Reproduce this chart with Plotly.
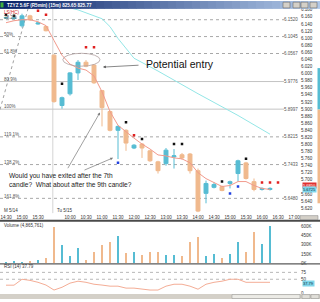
import plotly.graph_objects as go

# ---------------- data ----------------
# slot index: 15-minute bars, day1 (M 5/14) = -6..-1, day2 (Tu 5/15) = 0..27
slots = list(range(-6, 28))
opens = [6.157, 6.156, 6.135, 6.163, 6.140, 6.133,
         6.052, 5.910, 5.943, 6.002, 6.032, 6.024, 5.952, 5.893, 5.840, 5.840,
         5.790, 5.801, 5.782, 5.751, 5.746, 5.765, 5.771, 5.773, 5.726, 5.662,
         5.679, 5.681, 5.690, 5.718, 5.748, 5.695, 5.673, 5.673]
highs = [6.160, 6.159, 6.169, 6.166, 6.146, 6.135,
         6.055, 5.935, 6.004, 6.038, 6.038, 6.027, 5.954, 5.896, 5.854, 5.843,
         5.801, 5.804, 5.784, 5.754, 5.790, 5.787, 5.776, 5.776, 5.732, 5.698,
         5.693, 5.684, 5.698, 5.757, 5.751, 5.704, 5.679, 5.679]
lows = [6.154, 6.153, 6.130, 6.149, 6.138, 6.119,
        5.918, 5.901, 5.938, 5.982, 6.018, 5.971, 5.851, 5.837, 5.759, 5.782,
        5.787, 5.762, 5.751, 5.718, 5.740, 5.732, 5.757, 5.718, 5.609, 5.634,
        5.676, 5.668, 5.676, 5.695, 5.701, 5.668, 5.670, 5.670]
closes = [6.158, 6.157, 6.163, 6.152, 6.143, 6.121,
          5.921, 5.932, 6.002, 6.032, 6.021, 5.974, 5.904, 5.840, 5.851, 5.804,
          5.798, 5.790, 5.754, 5.726, 5.784, 5.768, 5.762, 5.726, 5.612, 5.690,
          5.687, 5.670, 5.695, 5.754, 5.704, 5.673, 5.676, 5.676]
volume_k = [20, 32, 20, 32, 55, 80,
            584, 300, 126, 253, 63, 190, 300, 347, 442, 174,
            190, 142, 190, 190, 142, 142, 126, 347, 426, 126,
            158, 95, 158, 347, 190, 505, 316, 600]
rsi = [28.6, 28.6, 50, 46, 39, 29,
       11, 21, 36, 43, 39, 32, 29, 25, 25, 18,
       18, 14, 11, 11, 25, 32, 32, 25, 14, 32,
       39, 43, 50, 50, 39, 39, 39, 39]
ma_fast = [6.1436, 6.1492, 6.1520, 6.1520, 6.1464, 6.1353,
           6.0935, 6.0518, 6.0267, 6.0156, 6.0100, 5.9933, 5.9487, 5.8930, 5.8541, 5.8346,
           5.8179, 5.8012, 5.7872, 5.7705, 5.7677, 5.7622, 5.7594, 5.7483, 5.7204, 5.7037,
           5.6926, 5.6814, 5.6842, 5.6953, 5.6953, 5.6842, 5.6759, 5.6731]
ma_slow_slots = [0, 3, 6, 7, 8, 10, 13, 18, 23, 27]
ma_slow = [6.1966, 6.1798, 6.1548, 6.1325, 6.0991, 6.0434, 6.0072, 5.9432, 5.8819, 5.8290]

fib_pct = ["38.2%", "50%", "61.8%", "80.9%", "100%", "119.1%", "138.2%", "161.8%"]
fib_val = [6.1520, 6.1045, 6.0567, 5.9776, 5.8997, 5.8215, 5.7433, 5.6480]

mk_black_slots = [-6, -5, 1, 9, 11, 15, 16, 21, 24]
mk_black_vals = [6.1659, 6.1631, 5.9710, 5.8624, 5.8151, 5.8012, 5.8012, 5.6953, 5.7594]
mk_red_slots = [-2, -1, 4, 5, 10, 26, 27, 28]
mk_red_vals = [6.1771, 6.1659, 6.0740, 6.0740, 5.8262, 5.6926, 5.6926, 5.6926]
mk_blue_slots = [8, 22, 23]
mk_blue_vals = [5.7483, 5.6619, 5.6814]

tick_slots = [-6, -4, -2, 2, 4, 6, 8, 10, 12, 14, 16, 18, 20, 22, 24, 26, 28, 30]
tick_text = ["14:30", "15:00", "15:30", "10:00", "10:30", "11:00", "11:30", "12:00",
             "12:30", "13:00", "13:30", "14:00", "14:30", "15:00", "15:30", "16:00",
             "16:30", "17:00"]
# price labels on the right (5.680 sits hidden behind the red last-value box)
price_ticks = [6.18, 6.16, 6.14, 6.12, 6.10, 6.08, 6.06, 6.04, 6.02, 6.00,
               5.98, 5.96, 5.94, 5.92, 5.90, 5.88, 5.86, 5.84, 5.82, 5.80,
               5.78, 5.76, 5.74, 5.72, 5.70, 5.66, 5.64, 5.62]
vol_ticks = [0, 150, 300, 450, 600]
vol_tick_text = ["0K", "150K", "300K", "450K", "600K"]
rsi_ticks = [0, 50, 75]

last_red = 5.6850
last_cyan = 5.6725
rsi_last = 37.79

title_text = "TZYZ 5.6F (R5min) (15m) 825.65 825.77"
comment_text = "Would you have exited after the 7th<br>candle?&nbsp; What about after the 9th candle?"

# ---------------- styling ----------------
UP = "#56bcd3"
DOWN = "#f0b98d"
FONT = "Liberation Sans, Arial, sans-serif"
W, H, R = 320, 302, 20
PW = W - R


def PX(x):
    return x / PW


def PY(y):
    return 1 - y / H


fig = go.Figure()

fig.add_trace(go.Candlestick(
    x=slots, open=opens, high=highs, low=lows, close=closes,
    increasing=dict(line=dict(color=UP, width=1), fillcolor=UP),
    decreasing=dict(line=dict(color=DOWN, width=1), fillcolor=DOWN),
    whiskerwidth=0, xaxis="x", yaxis="y", hoverinfo="skip"))

fig.add_trace(go.Scatter(x=ma_slow_slots, y=ma_slow, mode="lines",
                         line=dict(color="#93e6e6", width=1), xaxis="x", yaxis="y"))
fig.add_trace(go.Scatter(x=slots, y=ma_fast, mode="lines",
                         line=dict(color="#f29a8c", width=1), xaxis="x", yaxis="y"))

for s, v, c in [(mk_black_slots, mk_black_vals, "#111111"),
                (mk_red_slots, mk_red_vals, "#e02020"),
                (mk_blue_slots, mk_blue_vals, "#2040e0")]:
    fig.add_trace(go.Scatter(x=s, y=v, mode="markers",
                             marker=dict(symbol="square", size=2.5, color=c, line=dict(width=0)),
                             xaxis="x", yaxis="y"))

vol_colors = [UP if c >= o else DOWN for o, c in zip(opens, closes)]
fig.add_trace(go.Bar(x=slots, y=volume_k, marker=dict(color=vol_colors, line=dict(width=0)),
                     width=0.34, xaxis="x2", yaxis="y2"))

fig.add_trace(go.Scatter(x=slots, y=rsi, mode="lines",
                         line=dict(color="#f4ad96", width=1), xaxis="x3", yaxis="y3"))

shapes = []
annotations = []

# title bar gradient
n = 40
c0, c1 = (10, 36, 106), (176, 200, 232)
for i in range(n):
    t = i / (n - 1)
    col = "rgb(%d,%d,%d)" % tuple(int(a + (b - a) * t) for a, b in zip(c0, c1))
    shapes.append(dict(type="rect", xref="paper", yref="paper",
                       x0=PX(W * i / n), x1=PX(W * (i + 1) / n + 0.5), y0=PY(8), y1=PY(0),
                       fillcolor=col, line=dict(width=0), layer="above"))
shapes.append(dict(type="rect", xref="paper", yref="paper", x0=PX(0.5), x1=PX(3.5),
                   y0=PY(6.5), y1=PY(1.5), fillcolor="#3fae3f", line=dict(width=0), layer="above"))
for bx in [(283, 290), (293, 300), (301, 308), (310, 317)]:
    shapes.append(dict(type="rect", xref="paper", yref="paper", x0=PX(bx[0]), x1=PX(bx[1]),
                       y0=PY(7), y1=PY(1.2), fillcolor="#d4d0c8",
                       line=dict(width=0.6, color="#6a6a6a"), layer="above"))
annotations.append(dict(text="<b>" + title_text + "</b>", xref="paper", yref="paper",
                        x=PX(5), y=PY(4.2), xanchor="left", yanchor="middle", showarrow=False,
                        font=dict(family=FONT, size=4.6, color="white")))

# fib levels
for p, v in zip(fib_pct, fib_val):
    solid = p in ("80.9%", "100%")
    shapes.append(dict(type="line", xref="x", yref="y", x0=-6.75, x1=28.75, y0=v, y1=v,
                       line=dict(color="#c4c4c4" if solid else "#a8a8a8", width=1,
                                 dash="solid" if solid else "dot"), layer="below"))
    annotations.append(dict(text=p, xref="paper", yref="y", x=PX(1.5), y=v, yshift=2.2,
                            xanchor="left", yanchor="middle", showarrow=False,
                            font=dict(family=FONT, size=4.5, color="#555555")))
    annotations.append(dict(text="%.4f" % v, xref="paper", yref="y", x=1.0, y=v,
                            xanchor="right", yanchor="middle", showarrow=False,
                            font=dict(family=FONT, size=4.5, color="#555555")))

# diagonal fib anchor line
shapes.append(dict(type="line", xref="x", yref="y", x0=-6.75, y0=5.8986, x1=-3.25, y1=6.1826,
                   line=dict(color="#a0a0a0", width=1, dash="dot"), layer="below"))
# day separator
shapes.append(dict(type="line", xref="x", yref="paper", x0=-0.15, x1=-0.15,
                   y0=PY(215), y1=PY(8), line=dict(color="#d4d4d4", width=1), layer="below"))
# ellipse around potential entry
shapes.append(dict(type="circle", xref="x", yref="y", x0=1.1, x1=5.75, y0=6.021, y1=6.0573,
                   line=dict(color="#b0a0a0", width=0.8)))

# panel separators
shapes.append(dict(type="rect", xref="paper", yref="paper", x0=0, x1=PX(W), y0=PY(223.6), y1=PY(221.6),
                   fillcolor="#4a4a4a", line=dict(width=0)))
shapes.append(dict(type="rect", xref="paper", yref="paper", x0=0, x1=PX(W), y0=PY(267), y1=PY(265.8),
                   fillcolor="#5a5a5a", line=dict(width=0)))
# small button bottom-right of price panel
shapes.append(dict(type="rect", xref="paper", yref="paper", x0=PX(300), x1=PX(318), y0=PY(221.5), y1=PY(217.5),
                   fillcolor="#d4d0c8", line=dict(width=0.5, color="#808080")))
# right colour strip
shapes.append(dict(type="rect", xref="paper", yref="paper", x0=PX(317.5), x1=PX(320), y0=PY(110), y1=PY(68),
                   fillcolor=UP, line=dict(width=0)))
shapes.append(dict(type="rect", xref="paper", yref="paper", x0=PX(317.5), x1=PX(320), y0=PY(205), y1=PY(110),
                   fillcolor=DOWN, line=dict(width=0)))
# bottom scrollbar
shapes.append(dict(type="rect", xref="paper", yref="paper", x0=0, x1=PX(W), y0=PY(302), y1=PY(297),
                   fillcolor="#d4d0c8", line=dict(width=0)))
shapes.append(dict(type="rect", xref="paper", yref="paper", x0=PX(232), x1=PX(300), y0=PY(301.5), y1=PY(297.5),
                   fillcolor="#ecebe6", line=dict(width=0.5, color="#909090")))
for bx in [(302, 310), (311, 319)]:
    shapes.append(dict(type="rect", xref="paper", yref="paper", x0=PX(bx[0]), x1=PX(bx[1]),
                       y0=PY(301.5), y1=PY(297.5), fillcolor="#e0ded8",
                       line=dict(width=0.5, color="#909090")))
# RSI dotted guides
for lv in (75, 50):
    shapes.append(dict(type="line", xref="paper", yref="y3", x0=0, x1=1, y0=lv, y1=lv,
                       line=dict(color="#b8b8b8", width=1, dash="dot"), layer="below"))

# texts
annotations += [
    dict(text="LS(HC)", xref="paper", yref="paper", x=PX(2), y=PY(11.5), xanchor="left",
         yanchor="middle", showarrow=False, font=dict(family=FONT, size=4.5, color="#d02020")),
    dict(text="M 5/14", xref="paper", yref="paper", x=PX(2), y=PY(212.5), xanchor="left",
         yanchor="middle", showarrow=False, font=dict(family=FONT, size=4.5, color="#333333")),
    dict(text="Tu 5/15", xref="paper", yref="paper", x=PX(55), y=PY(212.5), xanchor="left",
         yanchor="middle", showarrow=False, font=dict(family=FONT, size=4.5, color="#333333")),
    dict(text="Potential entry", xref="paper", yref="paper", x=PX(144), y=PY(63.5),
         xanchor="left", yanchor="middle", showarrow=False,
         font=dict(family=FONT, size=10.5, color="#111111")),
    dict(text="", x=6.125, y=6.0183, ax=10.75, ay=6.0239, xref="x", yref="y", axref="x", ayref="y",
         showarrow=True, arrowhead=2, arrowsize=0.8, arrowwidth=0.7, arrowcolor="#555555"),
    dict(text=comment_text, xref="paper", yref="paper", x=PX(7), y=PY(181.5), xanchor="left",
         yanchor="middle", align="left", showarrow=False,
         font=dict(family=FONT, size=6.6, color="#222222")),
    dict(text="", x=5.75, y=5.8903, ax=1.625, ay=5.7288, xref="x", yref="y", axref="x", ayref="y",
         showarrow=True, arrowhead=2, arrowsize=0.8, arrowwidth=0.7, arrowcolor="#777777"),
    dict(text="", x=7.375, y=5.7622, ax=3.625, ay=5.726, xref="x", yref="y", axref="x", ayref="y",
         showarrow=True, arrowhead=2, arrowsize=0.8, arrowwidth=0.7, arrowcolor="#777777"),
    dict(text="Volume (4,865,761)", xref="paper", yref="paper", x=PX(2), y=PY(227.5), xanchor="left",
         yanchor="middle", showarrow=False, font=dict(family=FONT, size=4.5, color="#333333")),
    dict(text="RSI (14) 37.79", xref="paper", yref="paper", x=PX(2), y=PY(269.5), xanchor="left",
         yanchor="middle", showarrow=False, font=dict(family=FONT, size=4.5, color="#333333")),
    dict(text="%.4f" % last_red, xref="paper", yref="y", x=PX(302), y=last_red, xanchor="left",
         yanchor="middle", showarrow=False, bgcolor="#e03030", borderpad=0,
         font=dict(family=FONT, size=4, color="white")),
    dict(text="%.4f" % last_cyan, xref="paper", yref="y", x=PX(302), y=last_cyan, xanchor="left",
         yanchor="middle", showarrow=False, bgcolor="#7fd6ea", borderpad=0,
         font=dict(family=FONT, size=4, color="#103040")),
    dict(text="%.2f" % rsi_last, xref="paper", yref="y3", x=PX(302), y=35, xanchor="left",
         yanchor="middle", showarrow=False, bgcolor="#7fd6ea", borderpad=0,
         font=dict(family=FONT, size=4, color="#103040")),
]

axis_font = dict(family=FONT, size=4.5, color="#333333")
fig.update_layout(
    width=W, height=H, margin=dict(l=0, r=R, t=0, b=0, pad=0),
    paper_bgcolor="white", plot_bgcolor="white", showlegend=False,
    xaxis=dict(domain=[0, 1], anchor="y", range=[-6.75, 30.75], tickvals=tick_slots,
               ticktext=tick_text, tickfont=axis_font, showgrid=False, zeroline=False,
               showline=False, ticks="", rangeslider=dict(visible=False)),
    xaxis2=dict(domain=[0, 1], anchor="y2", matches="x", showticklabels=False, showgrid=False,
                zeroline=False, showline=False, ticks=""),
    xaxis3=dict(domain=[0, 1], anchor="y3", matches="x", showticklabels=False, showgrid=False,
                zeroline=False, showline=False, ticks=""),
    yaxis=dict(domain=[PY(215), PY(8)], range=[5.6062, 6.1826], side="right", anchor="x",
               tickvals=price_ticks, tickformat=".3f", tickfont=axis_font, showgrid=False,
               zeroline=False, showline=False, ticks=""),
    yaxis2=dict(domain=[PY(266), PY(224)], range=[0, 663], side="right", anchor="x2",
                tickvals=vol_ticks, ticktext=vol_tick_text, tickfont=axis_font, showgrid=False,
                zeroline=False, showline=False, ticks=""),
    yaxis3=dict(domain=[PY(296), PY(268)], range=[0, 100], side="right", anchor="x3",
                tickvals=rsi_ticks, tickfont=axis_font, showgrid=False, zeroline=False,
                showline=False, ticks=""),
    shapes=shapes, annotations=annotations, bargap=0,
)

fig.write_html("out.html")
